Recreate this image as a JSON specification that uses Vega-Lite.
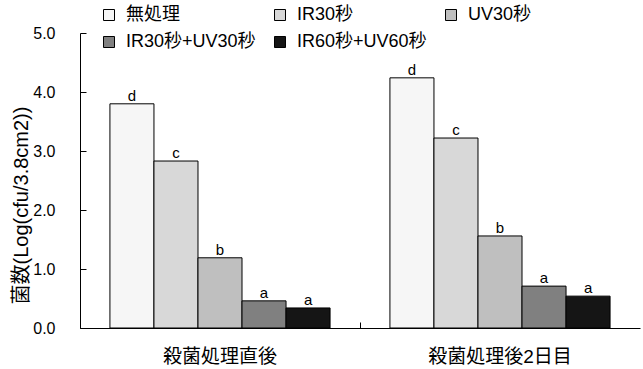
{
  "$schema": "https://vega.github.io/schema/vega-lite/v6.json",
  "width": 560,
  "height": 295,
  "autosize": {"type": "none"},
  "padding": {"left": 80, "top": 33, "right": 3, "bottom": 41},
  "config": {
    "view": {"stroke": null},
    "font": "Liberation Sans, Noto Sans CJK JP",
    "axis": {
      "grid": false,
      "domainColor": "black",
      "tickColor": "black",
      "labelColor": "black",
      "titleColor": "black",
      "labelFont": "Liberation Sans, Noto Sans CJK JP",
      "titleFont": "Liberation Sans, Noto Sans CJK JP"
    },
    "legend": {
      "labelFont": "Liberation Sans, Noto Sans CJK JP"
    }
  },
  "data": {
    "values": [
      {"group": "殺菌処理直後", "treatment": "無処理", "value": 3.80, "letter": "d"},
      {"group": "殺菌処理直後", "treatment": "IR30秒", "value": 2.83, "letter": "c"},
      {"group": "殺菌処理直後", "treatment": "UV30秒", "value": 1.19, "letter": "b"},
      {"group": "殺菌処理直後", "treatment": "IR30秒+UV30秒", "value": 0.46, "letter": "a"},
      {"group": "殺菌処理直後", "treatment": "IR60秒+UV60秒", "value": 0.34, "letter": "a"},
      {"group": "殺菌処理後2日目", "treatment": "無処理", "value": 4.24, "letter": "d"},
      {"group": "殺菌処理後2日目", "treatment": "IR30秒", "value": 3.22, "letter": "c"},
      {"group": "殺菌処理後2日目", "treatment": "UV30秒", "value": 1.56, "letter": "b"},
      {"group": "殺菌処理後2日目", "treatment": "IR30秒+UV30秒", "value": 0.71, "letter": "a"},
      {"group": "殺菌処理後2日目", "treatment": "IR60秒+UV60秒", "value": 0.54, "letter": "a"}
    ]
  },
  "encoding": {
    "x": {
      "field": "group",
      "type": "nominal",
      "sort": ["殺菌処理直後", "殺菌処理後2日目"],
      "scale": {"paddingInner": 0, "paddingOuter": 0},
      "axis": {
        "title": null,
        "labelAngle": 0,
        "bandPosition": 0,
        "tickSize": -6,
        "labelPadding": 25,
        "labelFontSize": 19,
        "labelAlign": "center"
      }
    },
    "xOffset": {
      "field": "treatment",
      "type": "nominal",
      "sort": ["無処理", "IR30秒", "UV30秒", "IR30秒+UV30秒", "IR60秒+UV60秒"],
      "scale": {"paddingInner": 0, "paddingOuter": 0.68}
    },
    "y": {
      "field": "value",
      "type": "quantitative",
      "scale": {"domain": [0, 5], "nice": false},
      "axis": {
        "values": [0, 1, 2, 3, 4, 5],
        "format": ".1f",
        "tickSize": -6,
        "labelPadding": 31,
        "labelFontSize": 16,
        "title": "菌数(Log(cfu/3.8cm2))",
        "titleFontSize": 20,
        "titleFontWeight": "normal",
        "titlePadding": 1,
        "titleY": 172
      }
    }
  },
  "layer": [
    {
      "mark": {"type": "bar", "stroke": "black", "strokeWidth": 1},
      "encoding": {
        "color": {
          "field": "treatment",
          "type": "nominal",
          "sort": ["無処理", "IR30秒", "UV30秒", "IR30秒+UV30秒", "IR60秒+UV60秒"],
          "scale": {
            "domain": ["無処理", "IR30秒", "UV30秒", "IR30秒+UV30秒", "IR60秒+UV60秒"],
            "range": ["#f6f6f6", "#d8d8d8", "#bfbfbf", "#808080", "#151515"]
          },
          "legend": {
            "title": null,
            "orient": "none",
            "legendX": 20,
            "legendY": -27,
            "direction": "horizontal",
            "columns": 3,
            "padding": 0,
            "symbolType": "square",
            "symbolSize": 121,
            "symbolStrokeColor": "black",
            "symbolStrokeWidth": 1,
            "symbolOpacity": 1,
            "labelFontSize": 18,
            "labelColor": "black",
            "labelOffset": 8,
            "labelLimit": 300,
            "columnPadding": 15,
            "rowPadding": 9
          }
        }
      }
    },
    {
      "mark": {"type": "text", "fontSize": 15, "baseline": "alphabetic", "dy": -3, "color": "black"},
      "encoding": {"text": {"field": "letter"}}
    }
  ]
}
